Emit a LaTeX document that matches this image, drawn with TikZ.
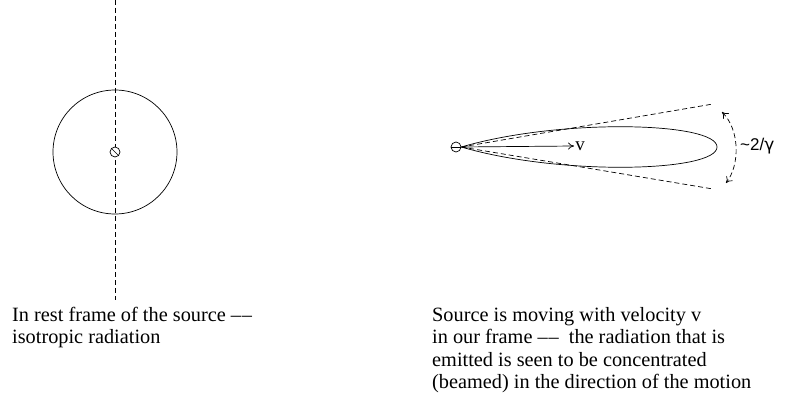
\documentclass[tikz,border=0pt]{standalone}
\usepackage{fontspec}
\setmainfont{Liberation Serif}
\newfontfamily\labelsans{Liberation Sans}
\newfontfamily\greeksans{DejaVu Sans}
\usetikzlibrary{arrows.meta}
\newcommand{\ddash}{\textendash\kern0.8pt\textendash}
\begin{document}
\begin{tikzpicture}[x=1pt,y=-1pt,
  dsh/.style={dash pattern=on 5pt off 3pt},
  caption/.style={font=\fontsize{20.3}{22.5}\selectfont, align=left, anchor=base west, inner sep=0pt},
  src/.style={circle, draw, minimum size=10pt, inner sep=0pt},
  thin/.style={line width=0.7pt}]
\useasboundingbox (0,0) rectangle (789,398);
% left: rest frame
\draw[thin] (115,152) circle (62);
\coordinate (vtop) at (115,0);
\coordinate (vbot) at (115,300);
\draw[thin,dsh] (vtop) -- (vbot);
\node[src,thin,fill=white] (s1) at (115,152) {};
\draw[thin] (s1.north west) -- (s1.south east);
\node[caption] (t1) at (12,343.5) {In rest frame of the source \ddash\\isotropic radiation};
% right: moving source
\node[src,thin] (s2) at (456,147) {};
\draw[thin] (s2.west) -- (s2.east);
\draw[thin] (s2.east) .. controls (560,118) and (717,122) .. (717,147)
  .. controls (717,172) and (560,176) .. (s2.east);
\coordinate (dt) at (713,104);
\coordinate (db) at (713,189);
\draw[thin,dsh] (s2.east) -- (dt);
\draw[thin,dsh] (s2.east) -- (db);
\node[inner sep=1pt, font=\fontsize{19}{20}\selectfont] (v) at (580,146) {v};
\draw[thin,-{To[length=6pt,width=7pt]}] (s2.east) -- (v.west);
\coordinate (at) at (722,112);
\coordinate (ab) at (726,183);
\draw[thin,dsh,{To[length=6pt,width=8pt]}-{To[length=6pt,width=8pt]}] (at) .. controls (740,130) and (740,165) .. (ab);
\node[anchor=west, inner sep=0pt, font=\labelsans\fontsize{17}{18}\selectfont] (g) at (740,146) {\textasciitilde 2/{\greeksans γ}};
\node[caption] (t2) at (432,388.5) {Source is moving with velocity v\\in our frame \ddash\ \ the radiation that is\\emitted is seen to be concentrated\\(beamed) in the direction of the motion};
\end{tikzpicture}
\end{document}
